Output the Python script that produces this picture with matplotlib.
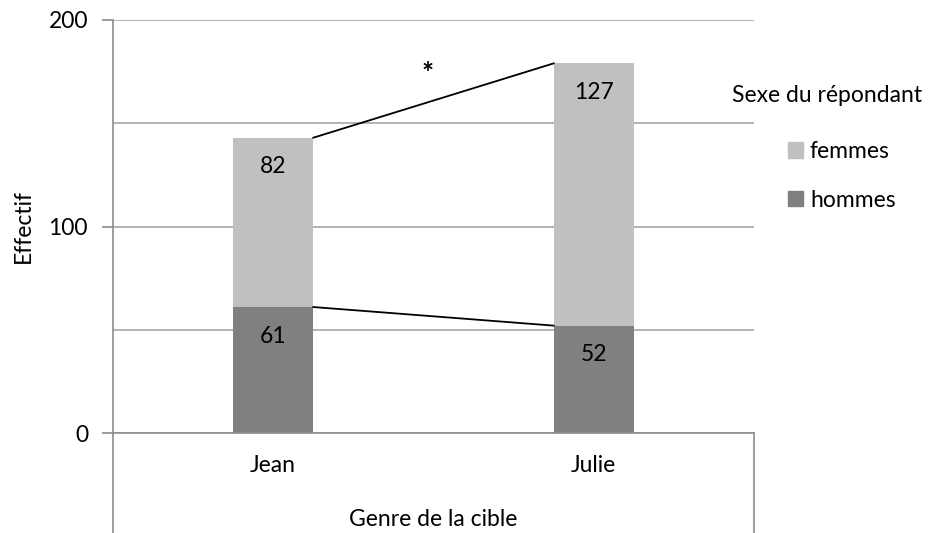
import matplotlib.pyplot as plt
from matplotlib.patches import Patch

# --- Data ---
categories = ["Jean", "Julie"]
hommes = [61, 52]
femmes = [82, 127]
series_names = ["femmes", "hommes"]
c_femmes = "#C0C0C0"
c_hommes = "#808080"
axis_col = "#8C8C8C"
grid_col = "#A6A6A6"

plt.rcParams['font.family'] = ['Lato', 'DejaVu Sans']
fs = 16.5

W, H = 940, 533
fig = plt.figure(figsize=(W / 100, H / 100), dpi=100)
x0, x1, y0, y1 = 113, 754, 433, 20
ax = fig.add_axes([x0 / W, (H - y0) / H, (x1 - x0) / W, (y0 - y1) / H])

xpos = [0, 1]
width = 0.25
ax.bar(xpos, hommes, width, color=c_hommes, zorder=3)
ax.bar(xpos, femmes, width, bottom=hommes, color=c_femmes, zorder=3)

ax.set_xlim(-0.5, 1.5)
ax.set_ylim(0, 200)

# series lines connecting the stacks
tops = [h + f for h, f in zip(hommes, femmes)]
ax.plot([xpos[0] + width / 2, xpos[1] - width / 2], [tops[0], tops[1]],
        color="black", lw=1.3, zorder=4)
ax.plot([xpos[0] + width / 2, xpos[1] - width / 2], [hommes[0], hommes[1]],
        color="black", lw=1.3, zorder=4)

# data labels (inside end)
for i in range(2):
    ax.annotate(str(hommes[i]), (xpos[i], hommes[i]), xytext=(0, -21),
                textcoords="offset points", ha="center", va="center",
                fontsize=fs, zorder=5)
    ax.annotate(str(femmes[i]), (xpos[i], tops[i]), xytext=(0, -21),
                textcoords="offset points", ha="center", va="center",
                fontsize=fs, zorder=5)

ax.text(0.48, 174, "*", ha="center", va="center", fontsize=fs + 4,
        fontweight="bold")

# grid / axes styling
for s in ax.spines.values():
    s.set_visible(False)
ax.set_yticks([0, 100, 200])
ax.set_yticks([50, 150], minor=True)
ax.yaxis.grid(True, which="both", color=grid_col, lw=1.2, zorder=0)
ax.tick_params(axis="y", which="major", length=8, color=axis_col, width=1.2,
               labelsize=fs, pad=10)
ax.tick_params(axis="y", which="minor", length=0)
ax.set_xticks(xpos)
ax.set_xticklabels(categories, fontsize=fs)
ax.tick_params(axis="x", length=0, pad=16)

# axis lines, extended below like the category box
ext = -100 / (y0 - y1)
ax.plot([0, 0], [ext, 1], transform=ax.transAxes, color=axis_col, lw=1.2,
        clip_on=False, zorder=6)
ax.plot([1, 1], [ext, 0], transform=ax.transAxes, color=axis_col, lw=1.2,
        clip_on=False, zorder=6)
ax.plot([0, 1], [0, 0], transform=ax.transAxes, color=axis_col, lw=1.2,
        clip_on=False, zorder=6)

fig.text(23 / W, 1 - 226 / H, "Effectif", rotation=90, ha="center",
         va="center", fontsize=fs)
fig.text(433 / W, 1 - 520 / H, "Genre de la cible", ha="center", va="center",
         fontsize=fs)

# legend
fig.text(732 / W, 1 - 95 / H, "Sexe du répondant", ha="left", va="center",
         fontsize=fs)
handles = [Patch(color=c_femmes), Patch(color=c_hommes)]
fig.legend(handles, series_names, loc="upper left",
           bbox_to_anchor=(779 / W, 1 - 132 / H), frameon=False,
           fontsize=fs, handlelength=0.65, handleheight=0.65,
           handletextpad=0.3, labelspacing=1.2, borderaxespad=0)

fig.savefig("out.png", dpi=100)
